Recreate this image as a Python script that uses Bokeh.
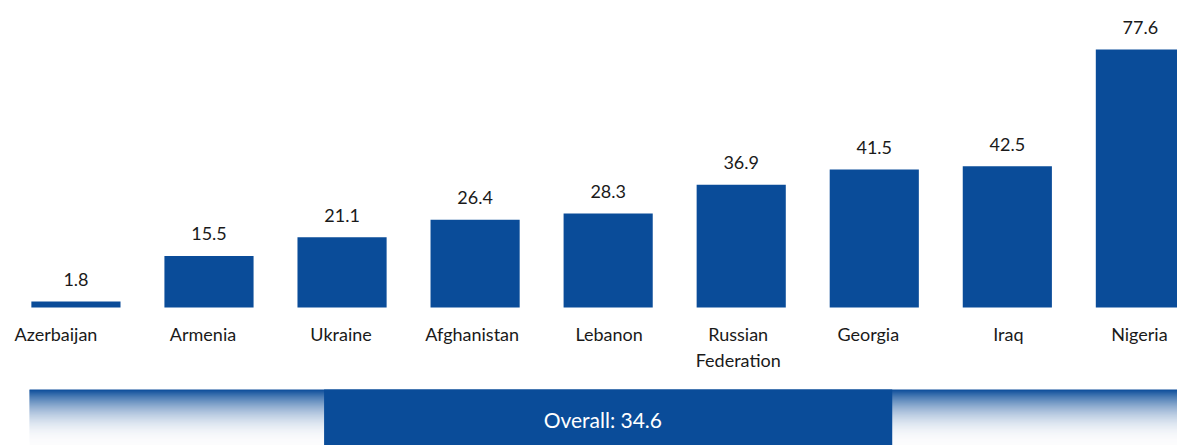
from bokeh.plotting import figure
from bokeh.models import Range1d, ColumnDataSource
from bokeh.core.properties import value
from bokeh.embed import file_html
from bokeh.resources import INLINE

countries = ["Azerbaijan", "Armenia", "Ukraine", "Afghanistan", "Lebanon",
             "Russian\nFederation", "Georgia", "Iraq", "Nigeria"]
values = [1.8, 15.5, 21.1, 26.4, 28.3, 36.9, 41.5, 42.5, 77.6]
overall_label = "Overall"
overall_value = 34.6

BLUE = "#0a4c99"
TEXT = "#1a1a1a"
FONT = "Lato"

idx = list(range(len(countries)))
# small horizontal nudges of the category labels (layout only, in px)
label_dx = [-20, -6, -1, -3, 1, -3, -6, 1, -1]

src = ColumnDataSource(dict(
    x=idx, top=values, name=countries, lab=[f"{v:.1f}" for v in values],
    dx=label_dx,
))

p = figure(width=1177, height=445, output_backend="svg", toolbar_location=None,
           x_range=Range1d(-0.567, 8.279), y_range=Range1d(-41.5, 92.33),
           min_border=0, outline_line_color=None)
p.axis.visible = False
p.grid.visible = False
p.background_fill_color = "white"

p.vbar(x="x", top="top", bottom=0, width=0.67, source=src,
       fill_color=BLUE, line_color=None)

p.text(x="x", y="top", text="lab", source=src, text_align="center",
       text_baseline="middle", y_offset=-22, text_font=value(FONT),
       text_font_size="18px", text_color=TEXT)

p.text(x="x", y=0, text="name", source=src, x_offset="dx", text_align="center",
       text_baseline="top", y_offset=15, text_font=value(FONT),
       text_font_size="18px", text_color=TEXT, text_line_height=1.2)

# gradient band under the chart
band_top, band_bot = -24.66, -41.5
n = 56
lefts, rights, tops, bottoms, colors = [], [], [], [], []
br, bg, bb = 0x0a, 0x4c, 0x99
step = (band_bot - band_top) / n
for i in range(n):
    f = (i + 0.5) / n
    w = (1 - f) ** 2.2
    r = int(round(252 - (252 - br) * w))
    g = int(round(252 - (252 - bg) * w))
    b = int(round(253 - (253 - bb) * w))
    colors.append(f"#{r:02x}{g:02x}{b:02x}")
    t = band_top + step * i
    bt = band_top + step * (i + 1) + (step * 0.6 if i < n - 1 else 0)
    tops.append(t)
    bottoms.append(bt)
    lefts.append(-0.349)
    rights.append(8.4)
p.quad(left=lefts, right=rights, top=tops, bottom=bottoms, fill_color=colors,
       line_color=None)

center = idx[4]
p.quad(left=[center - 2.135], right=[center + 2.135], top=[band_top],
       bottom=[band_bot], fill_color=BLUE, line_color=None)
p.text(x=[center - 0.04], y=[(band_top + band_bot) / 2],
       text=[f"{overall_label}: {overall_value}"], text_align="center",
       text_baseline="middle", text_font=value(FONT), text_font_size="21px",
       text_color="white", y_offset=2)

open("out.html", "w").write(file_html(p, INLINE))
